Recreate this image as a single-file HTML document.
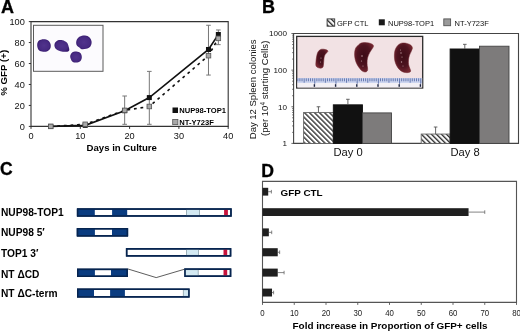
<!DOCTYPE html>
<html><head><meta charset="utf-8"><style>
html,body{margin:0;padding:0;background:#fff;width:520px;height:331px;overflow:hidden}
svg{display:block;filter:blur(0.35px);font-family:"Liberation Sans", sans-serif}
</style></head><body>
<svg width="520" height="331" viewBox="0 0 520 331">
<rect width="520" height="331" fill="#fff"/>
<text x="1.0" y="13.0" font-size="18" font-weight="bold" text-anchor="start" fill="#000" stroke="#000" stroke-width="0.3">A</text>
<rect x="33.5" y="25.3" width="69.5" height="46" fill="#fcfbfe" stroke="#5a5a5a" stroke-width="1" />
<path d="M37.20,44.50 C37.32,43.03 37.95,41.48 39.00,40.60 C40.05,39.72 41.97,39.23 43.50,39.20 C45.03,39.17 47.02,39.57 48.20,40.40 C49.38,41.23 50.27,42.83 50.60,44.20 C50.93,45.57 50.83,47.38 50.20,48.60 C49.57,49.82 48.17,51.00 46.80,51.50 C45.43,52.00 43.42,51.95 42.00,51.60 C40.58,51.25 39.10,50.58 38.30,49.40 C37.50,48.22 37.08,45.97 37.20,44.50 Z" fill="url(#cel)"/>
<path d="M54.50,44.20 C54.80,42.83 56.17,41.25 57.50,40.60 C58.83,39.95 60.95,39.97 62.50,40.30 C64.05,40.63 65.78,41.58 66.80,42.60 C67.82,43.62 68.20,45.10 68.60,46.40 C69.00,47.70 69.60,49.50 69.20,50.40 C68.80,51.30 67.65,51.67 66.20,51.80 C64.75,51.93 62.25,51.70 60.50,51.20 C58.75,50.70 56.70,49.97 55.70,48.80 C54.70,47.63 54.20,45.57 54.50,44.20 Z" fill="url(#cel)"/>
<path d="M76.50,40.50 C77.03,39.10 78.38,37.43 79.80,36.60 C81.22,35.77 83.37,35.37 85.00,35.50 C86.63,35.63 88.50,36.35 89.60,37.40 C90.70,38.45 91.47,40.30 91.60,41.80 C91.73,43.30 91.30,45.23 90.40,46.40 C89.50,47.57 87.67,48.33 86.20,48.80 C84.73,49.27 82.73,49.40 81.60,49.20 C80.47,49.00 80.23,48.30 79.40,47.60 C78.57,46.90 77.08,46.18 76.60,45.00 C76.12,43.82 75.97,41.90 76.50,40.50 Z" fill="url(#cel)"/>
<path d="M70.20,56.50 C70.20,55.03 71.17,53.42 72.20,52.60 C73.23,51.78 75.00,51.50 76.40,51.60 C77.80,51.70 79.70,52.23 80.60,53.20 C81.50,54.17 81.87,56.07 81.80,57.40 C81.73,58.73 81.13,60.33 80.20,61.20 C79.27,62.07 77.53,62.57 76.20,62.60 C74.87,62.63 73.20,62.42 72.20,61.40 C71.20,60.38 70.20,57.97 70.20,56.50 Z" fill="url(#cel)"/>
<path d="M31 21.6H228.2V126.4H31Z" fill="none" stroke="#333" stroke-width="1.1"/>
<line x1="28.8" y1="126.4" x2="31" y2="126.4" stroke="#333" stroke-width="1" />
<text x="24.8" y="129.70000000000002" font-size="9.2" text-anchor="end" fill="#111" >0</text>
<line x1="28.8" y1="105.44" x2="31" y2="105.44" stroke="#333" stroke-width="1" />
<text x="24.8" y="108.74" font-size="9.2" text-anchor="end" fill="#111" >20</text>
<line x1="28.8" y1="84.48" x2="31" y2="84.48" stroke="#333" stroke-width="1" />
<text x="24.8" y="87.78" font-size="9.2" text-anchor="end" fill="#111" >40</text>
<line x1="28.8" y1="63.519999999999996" x2="31" y2="63.519999999999996" stroke="#333" stroke-width="1" />
<text x="24.8" y="66.82" font-size="9.2" text-anchor="end" fill="#111" >60</text>
<line x1="28.8" y1="42.56" x2="31" y2="42.56" stroke="#333" stroke-width="1" />
<text x="24.8" y="45.86" font-size="9.2" text-anchor="end" fill="#111" >80</text>
<line x1="28.8" y1="21.599999999999994" x2="31" y2="21.599999999999994" stroke="#333" stroke-width="1" />
<text x="24.8" y="24.899999999999995" font-size="9.2" text-anchor="end" fill="#111" >100</text>
<line x1="31.0" y1="126.4" x2="31.0" y2="128.9" stroke="#333" stroke-width="1" />
<text x="31.0" y="138.5" font-size="9.2" text-anchor="middle" fill="#111" >0</text>
<line x1="80.3" y1="126.4" x2="80.3" y2="128.9" stroke="#333" stroke-width="1" />
<text x="80.3" y="138.5" font-size="9.2" text-anchor="middle" fill="#111" >10</text>
<line x1="129.6" y1="126.4" x2="129.6" y2="128.9" stroke="#333" stroke-width="1" />
<text x="129.6" y="138.5" font-size="9.2" text-anchor="middle" fill="#111" >20</text>
<line x1="178.9" y1="126.4" x2="178.9" y2="128.9" stroke="#333" stroke-width="1" />
<text x="178.9" y="138.5" font-size="9.2" text-anchor="middle" fill="#111" >30</text>
<line x1="228.2" y1="126.4" x2="228.2" y2="128.9" stroke="#333" stroke-width="1" />
<text x="228.2" y="138.5" font-size="9.2" text-anchor="middle" fill="#111" >40</text>
<text x="121.75" y="150.5" font-size="9.6" font-weight="bold" text-anchor="middle" fill="#000" >Days in Culture</text>
<text transform="translate(7.1 72.8) rotate(-90)" font-size="9.7" font-weight="bold" text-anchor="middle" fill="#000">% GFP (+)</text>
<line x1="124.66999999999999" y1="124.304" x2="124.66999999999999" y2="96.00800000000001" stroke="#777" stroke-width="1" />
<line x1="122.36999999999999" y1="124.304" x2="126.96999999999998" y2="124.304" stroke="#777" stroke-width="1" />
<line x1="122.36999999999999" y1="96.00800000000001" x2="126.96999999999998" y2="96.00800000000001" stroke="#777" stroke-width="1" />
<line x1="149.32" y1="124.304" x2="149.32" y2="71.38" stroke="#777" stroke-width="1" />
<line x1="147.01999999999998" y1="124.304" x2="151.62" y2="124.304" stroke="#777" stroke-width="1" />
<line x1="147.01999999999998" y1="71.38" x2="151.62" y2="71.38" stroke="#777" stroke-width="1" />
<line x1="208.48" y1="75.048" x2="208.48" y2="25.268" stroke="#777" stroke-width="1" />
<line x1="206.17999999999998" y1="75.048" x2="210.78" y2="75.048" stroke="#777" stroke-width="1" />
<line x1="206.17999999999998" y1="25.268" x2="210.78" y2="25.268" stroke="#777" stroke-width="1" />
<line x1="218.33999999999997" y1="44.656000000000006" x2="218.33999999999997" y2="29.98400000000001" stroke="#777" stroke-width="1" />
<line x1="216.03999999999996" y1="44.656000000000006" x2="220.64" y2="44.656000000000006" stroke="#777" stroke-width="1" />
<line x1="216.03999999999996" y1="29.98400000000001" x2="220.64" y2="29.98400000000001" stroke="#777" stroke-width="1" />
<polyline points="50.72,126.40 85.23,124.30 124.67,110.37 149.32,106.49 208.48,55.66 218.34,38.37" fill="none" stroke="#111" stroke-width="1.6" stroke-dasharray="2.8 3.8"/>
<polyline points="50.72,126.40 85.23,125.35 124.67,110.68 149.32,97.58 208.48,49.48 218.34,34.49" fill="none" stroke="#111" stroke-width="1.6"/>
<rect x="48.22" y="123.9" width="5" height="5" fill="#111" stroke="none" stroke-width="0" />
<rect x="82.72999999999999" y="122.852" width="5" height="5" fill="#111" stroke="none" stroke-width="0" />
<rect x="122.16999999999999" y="108.18" width="5" height="5" fill="#111" stroke="none" stroke-width="0" />
<rect x="146.82" y="95.08" width="5" height="5" fill="#111" stroke="none" stroke-width="0" />
<rect x="205.98" y="46.9768" width="5" height="5" fill="#111" stroke="none" stroke-width="0" />
<rect x="215.83999999999997" y="31.990399999999994" width="5" height="5" fill="#111" stroke="none" stroke-width="0" />
<rect x="48.42" y="124.10000000000001" width="4.6" height="4.6" fill="#a8a8a8" stroke="#555" stroke-width="0.8" />
<rect x="82.92999999999999" y="122.004" width="4.6" height="4.6" fill="#a8a8a8" stroke="#555" stroke-width="0.8" />
<rect x="122.36999999999999" y="108.0656" width="4.6" height="4.6" fill="#a8a8a8" stroke="#555" stroke-width="0.8" />
<rect x="147.01999999999998" y="104.188" width="4.6" height="4.6" fill="#a8a8a8" stroke="#555" stroke-width="0.8" />
<rect x="206.17999999999998" y="53.36" width="4.6" height="4.6" fill="#a8a8a8" stroke="#555" stroke-width="0.8" />
<rect x="216.03999999999996" y="36.068" width="4.6" height="4.6" fill="#a8a8a8" stroke="#555" stroke-width="0.8" />
<rect x="172.5" y="107.5" width="5.5" height="5.5" fill="#111" stroke="none" stroke-width="0" />
<text x="179.3" y="113.3" font-size="7.6" font-weight="bold" text-anchor="start" fill="#000" >NUP98-TOP1</text>
<rect x="172.7" y="119.4" width="5.2" height="5.2" fill="#a8a8a8" stroke="#555" stroke-width="0.8" />
<text x="179.3" y="125" font-size="7.6" font-weight="bold" text-anchor="start" fill="#000" >NT-Y723F</text>
<text x="261.9" y="12.9" font-size="18" font-weight="bold" text-anchor="start" fill="#000" stroke="#000" stroke-width="0.3">B</text>
<defs><pattern id="hat" patternUnits="userSpaceOnUse" width="3.55" height="3.55" patternTransform="rotate(-45)">
<rect width="3.55" height="3.55" fill="#fff"/><line x1="0.7" y1="0" x2="0.7" y2="3.55" stroke="#1a1a1a" stroke-width="1.25"/></pattern>
<radialGradient id="spl" cx="0.5" cy="0.45" r="0.6"><stop offset="0" stop-color="#3c0c16"/><stop offset="0.6" stop-color="#4e1420"/><stop offset="1" stop-color="#7c2a34"/></radialGradient>
<radialGradient id="cel" cx="0.5" cy="0.5" r="0.55"><stop offset="0" stop-color="#51338c"/><stop offset="0.7" stop-color="#472a82"/><stop offset="1" stop-color="#36196c"/></radialGradient></defs>
<rect x="327.1" y="18.9" width="7.6" height="7.3" fill="url(#hat)" stroke="#333" stroke-width="0.9" />
<text x="337" y="25.5" font-size="7.5" text-anchor="start" fill="#111" >GFP CTL</text>
<rect x="378.8" y="19.3" width="6" height="6" fill="#1a1a1a" stroke="none" stroke-width="0" />
<text x="388" y="25.5" font-size="7.5" text-anchor="start" fill="#111" >NUP98-TOP1</text>
<rect x="443.8" y="18.9" width="6.8" height="6.8" fill="#9a9a9a" stroke="#555" stroke-width="0.9" />
<text x="454.6" y="25.5" font-size="7.5" text-anchor="start" fill="#111" >NT-Y723F</text>
<text x="286.9" y="36.4" font-size="8.1" text-anchor="end" fill="#111" >1000</text>
<text x="286.9" y="73.03333333333335" font-size="8.1" text-anchor="end" fill="#111" >100</text>
<text x="286.9" y="109.66666666666669" font-size="8.1" text-anchor="end" fill="#111" >10</text>
<text x="286.9" y="146.3" font-size="8.1" text-anchor="end" fill="#111" >1</text>
<text transform="translate(256.3 89.3) rotate(-90)" font-size="9.5" text-anchor="middle" fill="#111">Day 12 Spleen colonies</text>
<text transform="translate(268.0 88.3) rotate(-90)" font-size="9.6" text-anchor="middle" fill="#111">(per 10<tspan font-size="6.4" dy="-3.4">4</tspan><tspan dy="3.4"> starting Cells)</tspan></text>
<path d="M293.6 33.5H518.5V143.4H293.6Z" fill="none" stroke="#444" stroke-width="1.1"/>
<line x1="291.40000000000003" y1="143.4" x2="293.6" y2="143.4" stroke="#444" stroke-width="0.8" />
<line x1="292.20000000000005" y1="132.37226782550948" x2="293.6" y2="132.37226782550948" stroke="#444" stroke-width="0.8" />
<line x1="292.20000000000005" y1="125.92145803543637" x2="293.6" y2="125.92145803543637" stroke="#444" stroke-width="0.8" />
<line x1="292.20000000000005" y1="121.34453565101899" x2="293.6" y2="121.34453565101899" stroke="#444" stroke-width="0.8" />
<line x1="292.20000000000005" y1="117.79439884115718" x2="293.6" y2="117.79439884115718" stroke="#444" stroke-width="0.8" />
<line x1="292.20000000000005" y1="114.89372586094586" x2="293.6" y2="114.89372586094586" stroke="#444" stroke-width="0.8" />
<line x1="292.20000000000005" y1="112.44124180081107" x2="293.6" y2="112.44124180081107" stroke="#444" stroke-width="0.8" />
<line x1="292.20000000000005" y1="110.31680347652848" x2="293.6" y2="110.31680347652848" stroke="#444" stroke-width="0.8" />
<line x1="292.20000000000005" y1="108.44291607087274" x2="293.6" y2="108.44291607087274" stroke="#444" stroke-width="0.8" />
<line x1="291.40000000000003" y1="106.76666666666668" x2="293.6" y2="106.76666666666668" stroke="#444" stroke-width="0.8" />
<line x1="292.20000000000005" y1="95.73893449217616" x2="293.6" y2="95.73893449217616" stroke="#444" stroke-width="0.8" />
<line x1="292.20000000000005" y1="89.28812470210303" x2="293.6" y2="89.28812470210303" stroke="#444" stroke-width="0.8" />
<line x1="292.20000000000005" y1="84.71120231768565" x2="293.6" y2="84.71120231768565" stroke="#444" stroke-width="0.8" />
<line x1="292.20000000000005" y1="81.16106550782385" x2="293.6" y2="81.16106550782385" stroke="#444" stroke-width="0.8" />
<line x1="292.20000000000005" y1="78.26039252761252" x2="293.6" y2="78.26039252761252" stroke="#444" stroke-width="0.8" />
<line x1="292.20000000000005" y1="75.80790846747773" x2="293.6" y2="75.80790846747773" stroke="#444" stroke-width="0.8" />
<line x1="292.20000000000005" y1="73.68347014319514" x2="293.6" y2="73.68347014319514" stroke="#444" stroke-width="0.8" />
<line x1="292.20000000000005" y1="71.80958273753942" x2="293.6" y2="71.80958273753942" stroke="#444" stroke-width="0.8" />
<line x1="291.40000000000003" y1="70.13333333333334" x2="293.6" y2="70.13333333333334" stroke="#444" stroke-width="0.8" />
<line x1="292.20000000000005" y1="59.10560115884283" x2="293.6" y2="59.10560115884283" stroke="#444" stroke-width="0.8" />
<line x1="292.20000000000005" y1="52.65479136876969" x2="293.6" y2="52.65479136876969" stroke="#444" stroke-width="0.8" />
<line x1="292.20000000000005" y1="48.07786898435231" x2="293.6" y2="48.07786898435231" stroke="#444" stroke-width="0.8" />
<line x1="292.20000000000005" y1="44.527732174490524" x2="293.6" y2="44.527732174490524" stroke="#444" stroke-width="0.8" />
<line x1="292.20000000000005" y1="41.6270591942792" x2="293.6" y2="41.6270591942792" stroke="#444" stroke-width="0.8" />
<line x1="292.20000000000005" y1="39.17457513414439" x2="293.6" y2="39.17457513414439" stroke="#444" stroke-width="0.8" />
<line x1="292.20000000000005" y1="37.0501368098618" x2="293.6" y2="37.0501368098618" stroke="#444" stroke-width="0.8" />
<line x1="292.20000000000005" y1="35.176249404206075" x2="293.6" y2="35.176249404206075" stroke="#444" stroke-width="0.8" />
<line x1="291.40000000000003" y1="33.5" x2="293.6" y2="33.5" stroke="#444" stroke-width="0.8" />
<rect x="296.7" y="36.4" width="126" height="51.6" fill="#f2e2e4" stroke="#2a2a2a" stroke-width="1.3" />
<rect x="297.4" y="78.0" width="124.8" height="5.0" fill="#cdd5ef" stroke="none" stroke-width="0" />
<rect x="297.4" y="83.0" width="124.8" height="4.5" fill="#f3f0f5" stroke="none" stroke-width="0" />
<line x1="297.8" y1="78.3" x2="297.8" y2="81.3" stroke="#4a5f9e" stroke-width="0.8" />
<line x1="299.92" y1="78.3" x2="299.92" y2="81.3" stroke="#4a5f9e" stroke-width="0.8" />
<line x1="302.04" y1="78.3" x2="302.04" y2="81.3" stroke="#4a5f9e" stroke-width="0.8" />
<line x1="304.16" y1="78.3" x2="304.16" y2="82.7" stroke="#4a5f9e" stroke-width="0.8" />
<line x1="306.28000000000003" y1="78.3" x2="306.28000000000003" y2="81.3" stroke="#4a5f9e" stroke-width="0.8" />
<line x1="308.40000000000003" y1="78.3" x2="308.40000000000003" y2="81.3" stroke="#4a5f9e" stroke-width="0.8" />
<line x1="310.52000000000004" y1="78.3" x2="310.52000000000004" y2="81.3" stroke="#4a5f9e" stroke-width="0.8" />
<line x1="312.64" y1="78.3" x2="312.64" y2="81.3" stroke="#4a5f9e" stroke-width="0.8" />
<line x1="314.76" y1="78.3" x2="314.76" y2="83.89999999999999" stroke="#4a5f9e" stroke-width="0.8" />
<line x1="316.88" y1="78.3" x2="316.88" y2="81.3" stroke="#4a5f9e" stroke-width="0.8" />
<line x1="319.0" y1="78.3" x2="319.0" y2="81.3" stroke="#4a5f9e" stroke-width="0.8" />
<line x1="321.12" y1="78.3" x2="321.12" y2="81.3" stroke="#4a5f9e" stroke-width="0.8" />
<line x1="323.24" y1="78.3" x2="323.24" y2="81.3" stroke="#4a5f9e" stroke-width="0.8" />
<line x1="325.36" y1="78.3" x2="325.36" y2="82.7" stroke="#4a5f9e" stroke-width="0.8" />
<line x1="327.48" y1="78.3" x2="327.48" y2="81.3" stroke="#4a5f9e" stroke-width="0.8" />
<line x1="329.6" y1="78.3" x2="329.6" y2="81.3" stroke="#4a5f9e" stroke-width="0.8" />
<line x1="331.72" y1="78.3" x2="331.72" y2="81.3" stroke="#4a5f9e" stroke-width="0.8" />
<line x1="333.84000000000003" y1="78.3" x2="333.84000000000003" y2="81.3" stroke="#4a5f9e" stroke-width="0.8" />
<line x1="335.96000000000004" y1="78.3" x2="335.96000000000004" y2="83.89999999999999" stroke="#4a5f9e" stroke-width="0.8" />
<line x1="338.08000000000004" y1="78.3" x2="338.08000000000004" y2="81.3" stroke="#4a5f9e" stroke-width="0.8" />
<line x1="340.20000000000005" y1="78.3" x2="340.20000000000005" y2="81.3" stroke="#4a5f9e" stroke-width="0.8" />
<line x1="342.32" y1="78.3" x2="342.32" y2="81.3" stroke="#4a5f9e" stroke-width="0.8" />
<line x1="344.44" y1="78.3" x2="344.44" y2="81.3" stroke="#4a5f9e" stroke-width="0.8" />
<line x1="346.56" y1="78.3" x2="346.56" y2="82.7" stroke="#4a5f9e" stroke-width="0.8" />
<line x1="348.68" y1="78.3" x2="348.68" y2="81.3" stroke="#4a5f9e" stroke-width="0.8" />
<line x1="350.8" y1="78.3" x2="350.8" y2="81.3" stroke="#4a5f9e" stroke-width="0.8" />
<line x1="352.92" y1="78.3" x2="352.92" y2="81.3" stroke="#4a5f9e" stroke-width="0.8" />
<line x1="355.04" y1="78.3" x2="355.04" y2="81.3" stroke="#4a5f9e" stroke-width="0.8" />
<line x1="357.16" y1="78.3" x2="357.16" y2="83.89999999999999" stroke="#4a5f9e" stroke-width="0.8" />
<line x1="359.28000000000003" y1="78.3" x2="359.28000000000003" y2="81.3" stroke="#4a5f9e" stroke-width="0.8" />
<line x1="361.40000000000003" y1="78.3" x2="361.40000000000003" y2="81.3" stroke="#4a5f9e" stroke-width="0.8" />
<line x1="363.52" y1="78.3" x2="363.52" y2="81.3" stroke="#4a5f9e" stroke-width="0.8" />
<line x1="365.64" y1="78.3" x2="365.64" y2="81.3" stroke="#4a5f9e" stroke-width="0.8" />
<line x1="367.76" y1="78.3" x2="367.76" y2="82.7" stroke="#4a5f9e" stroke-width="0.8" />
<line x1="369.88" y1="78.3" x2="369.88" y2="81.3" stroke="#4a5f9e" stroke-width="0.8" />
<line x1="372.0" y1="78.3" x2="372.0" y2="81.3" stroke="#4a5f9e" stroke-width="0.8" />
<line x1="374.12" y1="78.3" x2="374.12" y2="81.3" stroke="#4a5f9e" stroke-width="0.8" />
<line x1="376.24" y1="78.3" x2="376.24" y2="81.3" stroke="#4a5f9e" stroke-width="0.8" />
<line x1="378.36" y1="78.3" x2="378.36" y2="83.89999999999999" stroke="#4a5f9e" stroke-width="0.8" />
<line x1="380.48" y1="78.3" x2="380.48" y2="81.3" stroke="#4a5f9e" stroke-width="0.8" />
<line x1="382.6" y1="78.3" x2="382.6" y2="81.3" stroke="#4a5f9e" stroke-width="0.8" />
<line x1="384.72" y1="78.3" x2="384.72" y2="81.3" stroke="#4a5f9e" stroke-width="0.8" />
<line x1="386.84000000000003" y1="78.3" x2="386.84000000000003" y2="81.3" stroke="#4a5f9e" stroke-width="0.8" />
<line x1="388.96000000000004" y1="78.3" x2="388.96000000000004" y2="82.7" stroke="#4a5f9e" stroke-width="0.8" />
<line x1="391.08000000000004" y1="78.3" x2="391.08000000000004" y2="81.3" stroke="#4a5f9e" stroke-width="0.8" />
<line x1="393.20000000000005" y1="78.3" x2="393.20000000000005" y2="81.3" stroke="#4a5f9e" stroke-width="0.8" />
<line x1="395.32000000000005" y1="78.3" x2="395.32000000000005" y2="81.3" stroke="#4a5f9e" stroke-width="0.8" />
<line x1="397.44" y1="78.3" x2="397.44" y2="81.3" stroke="#4a5f9e" stroke-width="0.8" />
<line x1="399.56" y1="78.3" x2="399.56" y2="83.89999999999999" stroke="#4a5f9e" stroke-width="0.8" />
<line x1="401.68" y1="78.3" x2="401.68" y2="81.3" stroke="#4a5f9e" stroke-width="0.8" />
<line x1="403.8" y1="78.3" x2="403.8" y2="81.3" stroke="#4a5f9e" stroke-width="0.8" />
<line x1="405.92" y1="78.3" x2="405.92" y2="81.3" stroke="#4a5f9e" stroke-width="0.8" />
<line x1="408.04" y1="78.3" x2="408.04" y2="81.3" stroke="#4a5f9e" stroke-width="0.8" />
<line x1="410.16" y1="78.3" x2="410.16" y2="82.7" stroke="#4a5f9e" stroke-width="0.8" />
<line x1="412.28000000000003" y1="78.3" x2="412.28000000000003" y2="81.3" stroke="#4a5f9e" stroke-width="0.8" />
<line x1="414.40000000000003" y1="78.3" x2="414.40000000000003" y2="81.3" stroke="#4a5f9e" stroke-width="0.8" />
<line x1="416.52" y1="78.3" x2="416.52" y2="81.3" stroke="#4a5f9e" stroke-width="0.8" />
<line x1="418.64" y1="78.3" x2="418.64" y2="81.3" stroke="#4a5f9e" stroke-width="0.8" />
<line x1="420.76" y1="78.3" x2="420.76" y2="83.89999999999999" stroke="#4a5f9e" stroke-width="0.8" />
<rect x="313.7" y="84.2" width="1.4" height="2.6" fill="#1c2440" stroke="none" stroke-width="0" />
<rect x="334.9" y="84.2" width="1.4" height="2.6" fill="#1c2440" stroke="none" stroke-width="0" />
<rect x="356.09999999999997" y="84.2" width="1.4" height="2.6" fill="#1c2440" stroke="none" stroke-width="0" />
<rect x="377.3" y="84.2" width="1.4" height="2.6" fill="#1c2440" stroke="none" stroke-width="0" />
<rect x="398.5" y="84.2" width="1.4" height="2.6" fill="#1c2440" stroke="none" stroke-width="0" />
<rect x="419.7" y="84.2" width="1.4" height="2.6" fill="#1c2440" stroke="none" stroke-width="0" />
<path d="M409.5,44.6 C411.5,45.5 412.8,47 412.4,49.2 L411.2,48.8 C411.3,47.3 410.6,46 409.5,44.6Z" fill="#c8a078"/>
<path d="M319.3,50.3 C320.5,49 323,48.8 325.5,49.6 C327,50 328.2,50.6 327.8,51.6 C326,53.5 324.2,55 324,58 C323.6,61 323.8,64 323.2,66.5 C322.8,68.2 320.5,68.5 318.5,67.8 C316.5,67.2 315.6,66 315.8,64 C316,61 316.2,58 316.8,55.5 C317.3,53 318.2,51.3 319.3,50.3 Z" fill="url(#spl)" stroke="#6a2028" stroke-width="0.5"/>
<path d="M358.6,44.9 C360,43.2 362,42.5 364.5,42.5 C367.5,42.5 371,43.3 372.6,44.4 C373.8,45.3 373.7,46.5 372.8,47.8 C371,50.5 368.5,54 367.5,58 C366.8,61.5 367,65 367.6,68 C368,70.5 367,72.2 364.9,72 C362.5,71.7 361,70.3 360,68.8 C357.8,66 356,63 355.2,59.5 C354.3,55.5 354.3,51.5 355.5,48.5 C356.3,46.8 357.4,45.7 358.6,44.9 Z" fill="url(#spl)" stroke="#6a2028" stroke-width="0.5"/>
<path d="M401.5,43.2 C404,42.6 407.5,43.3 409.8,44.5 C411.5,45.5 412.6,47 412.3,48.6 C411.8,51 410.2,53 409.4,55.5 C408.5,58.5 408.2,61.5 408.6,64.5 C409,67 410.6,69.5 410.7,71 C410.6,72.5 407.8,72.9 405,72.5 C402.2,72 399.6,70.2 398,67.9 C396,65 394.8,61.8 394.5,58.7 C394.2,55 394.4,51.5 395.5,49 C396.8,46 398.8,44 401.5,43.2 Z" fill="url(#spl)" stroke="#6a2028" stroke-width="0.5"/>
<circle cx="321" cy="58" r="0.6" fill="#d8b8bc" opacity="0.8"/>
<circle cx="320.5" cy="62" r="0.5" fill="#d8b8bc" opacity="0.8"/>
<circle cx="362" cy="56" r="0.8" fill="#d8b8bc" opacity="0.8"/>
<circle cx="361.5" cy="61" r="0.6" fill="#d8b8bc" opacity="0.8"/>
<circle cx="363" cy="66" r="0.6" fill="#d8b8bc" opacity="0.8"/>
<circle cx="401" cy="53" r="0.7" fill="#d8b8bc" opacity="0.8"/>
<circle cx="402" cy="57" r="0.6" fill="#d8b8bc" opacity="0.8"/>
<circle cx="401.5" cy="62" r="0.7" fill="#d8b8bc" opacity="0.8"/>
<circle cx="403" cy="66" r="0.5" fill="#d8b8bc" opacity="0.8"/>
<circle cx="400.5" cy="50" r="0.5" fill="#d8b8bc" opacity="0.8"/>
<rect x="303.6" y="112.44124180081107" width="29.69999999999999" height="30.958758199188935" fill="url(#hat)" stroke="#666" stroke-width="0.9" />
<line x1="318.45" y1="112.44124180081107" x2="318.45" y2="106.76666666666668" stroke="#555" stroke-width="0.9" />
<line x1="316.65" y1="106.76666666666668" x2="320.25" y2="106.76666666666668" stroke="#555" stroke-width="0.9" />
<rect x="333.3" y="104.82222635372406" width="29.19999999999999" height="38.57777364627594" fill="#111" stroke="#111" stroke-width="0.9" />
<line x1="347.9" y1="104.82222635372406" x2="347.9" y2="99.28907130203797" stroke="#555" stroke-width="0.9" />
<line x1="346.09999999999997" y1="99.28907130203797" x2="349.7" y2="99.28907130203797" stroke="#555" stroke-width="0.9" />
<rect x="362.5" y="112.90242349786155" width="29.0" height="30.497576502138457" fill="#7d7b7b" stroke="#444" stroke-width="0.9" />
<rect x="421.2" y="134.04851722971557" width="28.900000000000034" height="9.351482770284434" fill="url(#hat)" stroke="#666" stroke-width="0.9" />
<line x1="435.6" y1="134.04851722971557" x2="435.6" y2="127.01911078516338" stroke="#555" stroke-width="0.9" />
<line x1="433.8" y1="127.01911078516338" x2="437.40000000000003" y2="127.01911078516338" stroke="#555" stroke-width="0.9" />
<rect x="450.1" y="48.977883732629664" width="29.399999999999977" height="94.42211626737034" fill="#111" stroke="#111" stroke-width="0.9" />
<line x1="464.8" y1="48.977883732629664" x2="464.8" y2="44.33795273310203" stroke="#555" stroke-width="0.9" />
<line x1="463.0" y1="44.33795273310203" x2="466.6" y2="44.33795273310203" stroke="#555" stroke-width="0.9" />
<rect x="479.5" y="46.203981578696585" width="29.5" height="97.19601842130342" fill="#7d7b7b" stroke="#444" stroke-width="0.9" />
<text x="348" y="155.9" font-size="11.2" text-anchor="middle" fill="#111" >Day 0</text>
<text x="465.1" y="155.9" font-size="11.2" text-anchor="middle" fill="#111" >Day 8</text>
<text x="0.0" y="175.0" font-size="17.5" font-weight="bold" text-anchor="start" fill="#000" stroke="#000" stroke-width="0.3">C</text>
<text x="1.0" y="215.5" font-size="10.2" font-weight="bold" text-anchor="start" fill="#000" >NUP98-TOP1</text>
<text x="1.0" y="235.9" font-size="10.2" font-weight="bold" text-anchor="start" fill="#000" >NUP98 5′</text>
<text x="1.0" y="256.6" font-size="10.2" font-weight="bold" text-anchor="start" fill="#000" >TOP1 3′</text>
<text x="1.0" y="277.5" font-size="10.2" font-weight="bold" text-anchor="start" fill="#000" >NT ΔCD</text>
<text x="1.0" y="297.2" font-size="10.2" font-weight="bold" text-anchor="start" fill="#000" >NT ΔC-term</text>
<rect x="77.65" y="209.05" width="153.29999999999998" height="6.899999999999977" fill="#fff" stroke="#06244f" stroke-width="1.5" />
<rect x="76.9" y="208.9" width="17.89999999999999" height="7.199999999999989" fill="#0a3c80" stroke="none" stroke-width="0" />
<rect x="112.1" y="208.9" width="15.100000000000009" height="7.199999999999989" fill="#0a3c80" stroke="none" stroke-width="0" />
<rect x="186.5" y="209.60000000000002" width="13.0" height="5.7999999999999545" fill="#d3e9f2" stroke="#8aa0a8" stroke-width="0.8" />
<rect x="224.1" y="209.5" width="3.8000000000000114" height="6.0" fill="#c8143c" stroke="none" stroke-width="0" />
<rect x="77.65" y="209.05" width="153.29999999999998" height="6.899999999999977" fill="none" stroke="#06244f" stroke-width="1.5"/>
<rect x="77.55" y="228.75" width="49.8" height="7.099999999999994" fill="#fff" stroke="#06244f" stroke-width="1.5" />
<rect x="76.8" y="228.6" width="18.10000000000001" height="7.400000000000006" fill="#0a3c80" stroke="none" stroke-width="0" />
<rect x="112.0" y="228.6" width="16.099999999999994" height="7.400000000000006" fill="#0a3c80" stroke="none" stroke-width="0" />
<rect x="77.55" y="228.75" width="49.8" height="7.099999999999994" fill="none" stroke="#06244f" stroke-width="1.5"/>
<rect x="126.65" y="248.85" width="103.9" height="7.000000000000028" fill="#fff" stroke="#06244f" stroke-width="1.5" />
<rect x="186.5" y="249.4" width="12.0" height="5.900000000000006" fill="#d3e9f2" stroke="#8aa0a8" stroke-width="0.8" />
<rect x="223.5" y="249.29999999999998" width="3.6999999999999886" height="6.100000000000051" fill="#c8143c" stroke="none" stroke-width="0" />
<rect x="126.65" y="248.85" width="103.9" height="7.000000000000028" fill="none" stroke="#06244f" stroke-width="1.5"/>
<rect x="77.75" y="269.35" width="49.400000000000006" height="6.899999999999977" fill="#fff" stroke="#06244f" stroke-width="1.5" />
<rect x="77.0" y="269.20000000000005" width="17.900000000000006" height="7.199999999999932" fill="#0a3c80" stroke="none" stroke-width="0" />
<rect x="111.0" y="269.20000000000005" width="16.900000000000006" height="7.199999999999932" fill="#0a3c80" stroke="none" stroke-width="0" />
<rect x="77.75" y="269.35" width="49.400000000000006" height="6.899999999999977" fill="none" stroke="#06244f" stroke-width="1.5"/>
<polyline points="127.7,268.9 156.2,277.6 184.6,269.2" fill="none" stroke="#333" stroke-width="0.8"/>
<rect x="185.05" y="269.15" width="45.5" height="7.0" fill="#fff" stroke="#06244f" stroke-width="1.5" />
<rect x="185" y="269.7" width="13.199999999999989" height="5.899999999999977" fill="#d3e9f2" stroke="#8aa0a8" stroke-width="0.8" />
<rect x="223.5" y="269.59999999999997" width="3.6999999999999886" height="6.100000000000023" fill="#c8143c" stroke="none" stroke-width="0" />
<rect x="185.05" y="269.15" width="45.5" height="7.0" fill="none" stroke="#06244f" stroke-width="1.5"/>
<rect x="77.75" y="289.25" width="111.1" height="7.600000000000023" fill="#fff" stroke="#06244f" stroke-width="1.5" />
<rect x="77.0" y="289.1" width="17.0" height="7.899999999999977" fill="#0a3c80" stroke="none" stroke-width="0" />
<rect x="110.1" y="289.1" width="14.800000000000011" height="7.899999999999977" fill="#0a3c80" stroke="none" stroke-width="0" />
<rect x="183.3" y="289.8" width="5.699999999999989" height="6.5" fill="#d3e9f2" stroke="#8aa0a8" stroke-width="0.8" />
<rect x="77.75" y="289.25" width="111.1" height="7.600000000000023" fill="none" stroke="#06244f" stroke-width="1.5"/>
<text x="261.3" y="176.6" font-size="17.6" font-weight="bold" text-anchor="start" fill="#000" stroke="#000" stroke-width="0.3">D</text>
<path d="M262.5 181.4H516.5V302.4H262.5Z" fill="none" stroke="#555" stroke-width="1.1"/>
<line x1="262.5" y1="302.4" x2="262.5" y2="304.9" stroke="#555" stroke-width="0.9" />
<text transform="translate(262.50 315.6) scale(0.8 1)" font-size="9.8" text-anchor="middle" fill="#222">0</text>
<line x1="294.25" y1="302.4" x2="294.25" y2="304.9" stroke="#555" stroke-width="0.9" />
<text transform="translate(294.25 315.6) scale(0.8 1)" font-size="9.8" text-anchor="middle" fill="#222">10</text>
<line x1="326.0" y1="302.4" x2="326.0" y2="304.9" stroke="#555" stroke-width="0.9" />
<text transform="translate(326.00 315.6) scale(0.8 1)" font-size="9.8" text-anchor="middle" fill="#222">20</text>
<line x1="357.75" y1="302.4" x2="357.75" y2="304.9" stroke="#555" stroke-width="0.9" />
<text transform="translate(357.75 315.6) scale(0.8 1)" font-size="9.8" text-anchor="middle" fill="#222">30</text>
<line x1="389.5" y1="302.4" x2="389.5" y2="304.9" stroke="#555" stroke-width="0.9" />
<text transform="translate(389.50 315.6) scale(0.8 1)" font-size="9.8" text-anchor="middle" fill="#222">40</text>
<line x1="421.25" y1="302.4" x2="421.25" y2="304.9" stroke="#555" stroke-width="0.9" />
<text transform="translate(421.25 315.6) scale(0.8 1)" font-size="9.8" text-anchor="middle" fill="#222">50</text>
<line x1="453.0" y1="302.4" x2="453.0" y2="304.9" stroke="#555" stroke-width="0.9" />
<text transform="translate(453.00 315.6) scale(0.8 1)" font-size="9.8" text-anchor="middle" fill="#222">60</text>
<line x1="484.75" y1="302.4" x2="484.75" y2="304.9" stroke="#555" stroke-width="0.9" />
<text transform="translate(484.75 315.6) scale(0.8 1)" font-size="9.8" text-anchor="middle" fill="#222">70</text>
<line x1="516.5" y1="302.4" x2="516.5" y2="304.9" stroke="#555" stroke-width="0.9" />
<text transform="translate(516.50 315.6) scale(0.8 1)" font-size="9.8" text-anchor="middle" fill="#222">80</text>
<line x1="268.215" y1="191.7" x2="271.39" y2="191.7" stroke="#666" stroke-width="0.8" />
<line x1="271.39" y1="189.89999999999998" x2="271.39" y2="193.5" stroke="#666" stroke-width="0.8" />
<rect x="262.5" y="187.8" width="5.714999999999975" height="7.799999999999983" fill="#1f1f1f" stroke="none" stroke-width="0" />
<line x1="468.5575" y1="212.1" x2="484.75" y2="212.1" stroke="#666" stroke-width="0.8" />
<line x1="484.75" y1="210.29999999999998" x2="484.75" y2="213.9" stroke="#666" stroke-width="0.8" />
<rect x="262.5" y="208.2" width="206.0575" height="7.800000000000011" fill="#1f1f1f" stroke="none" stroke-width="0" />
<line x1="268.85" y1="232.35000000000002" x2="271.7075" y2="232.35000000000002" stroke="#666" stroke-width="0.8" />
<line x1="271.7075" y1="230.55" x2="271.7075" y2="234.15000000000003" stroke="#666" stroke-width="0.8" />
<rect x="262.5" y="228.4" width="6.350000000000023" height="7.900000000000006" fill="#1f1f1f" stroke="none" stroke-width="0" />
<line x1="277.74" y1="252.25" x2="279.645" y2="252.25" stroke="#666" stroke-width="0.8" />
<line x1="279.645" y1="250.45" x2="279.645" y2="254.05" stroke="#666" stroke-width="0.8" />
<rect x="262.5" y="248.2" width="15.240000000000009" height="8.100000000000023" fill="#1f1f1f" stroke="none" stroke-width="0" />
<line x1="277.74" y1="272.6" x2="284.09" y2="272.6" stroke="#666" stroke-width="0.8" />
<line x1="284.09" y1="270.8" x2="284.09" y2="274.40000000000003" stroke="#666" stroke-width="0.8" />
<rect x="262.5" y="268.6" width="15.240000000000009" height="8.0" fill="#1f1f1f" stroke="none" stroke-width="0" />
<line x1="272.025" y1="292.55" x2="273.6125" y2="292.55" stroke="#666" stroke-width="0.8" />
<line x1="273.6125" y1="290.75" x2="273.6125" y2="294.35" stroke="#666" stroke-width="0.8" />
<rect x="262.5" y="288.6" width="9.524999999999977" height="7.899999999999977" fill="#1f1f1f" stroke="none" stroke-width="0" />
<text x="280.6" y="195.6" font-size="9.9" font-weight="bold" text-anchor="start" fill="#000" >GFP CTL</text>
<text x="390" y="328.6" font-size="9.8" font-weight="bold" text-anchor="middle" fill="#000" textLength="195" lengthAdjust="spacingAndGlyphs">Fold increase in Proportion of GFP+ cells</text>
</svg>
</body></html>
